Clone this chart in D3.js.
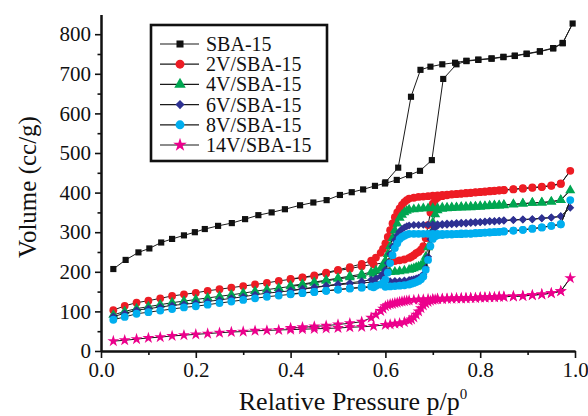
<!DOCTYPE html>
<html><head><meta charset="utf-8">
<script src="https://cdn.jsdelivr.net/npm/d3@7"></script>
<style>body{margin:0;background:#fff;} svg{display:block;} text{font-family:"Liberation Serif","Times New Roman",serif;fill:#111;}</style>
</head><body><svg id="c" width="588" height="416"></svg>
<script>
// ---------------- data ----------------
const seriesNames = ["SBA-15","2V/SBA-15","4V/SBA-15","6V/SBA-15","8V/SBA-15","14V/SBA-15"];
const seriesColors = ["#111111","#ed1c24","#00a651","#2e3192","#00aeef","#ec008c"];
const seriesShapes = ["square","circle","triangle","diamond","circle","star"];

const xTickValues = [0.0,0.2,0.4,0.6,0.8,1.0];
const xTickLabels = ["0.0","0.2","0.4","0.6","0.8","1.0"];
const yTickValues = [0,100,200,300,400,500,600,700,800];

// SBA-15
const sbaAdsP = [0.026,0.052,0.079,0.102,0.127,0.150,0.175,0.198,0.219,0.247,0.276,0.304,0.332,0.36,0.388,0.42,0.448,0.476,0.504,0.529,0.553,0.578,0.599,0.624,0.650,0.673,0.698,0.722,0.75,0.771,0.796,0.824,0.849,0.873,0.898,0.926,0.954,0.974,0.995];
const sbaAdsV = [207,230,249,259,274,283,292,300,308,316,323,333,343,350,358,368,375,381,394,401,408,417,423,432,444,455,482,687,724,732,735,738,742,745,750,756,764,777,827];
const sbaDesP = [0.974,0.954,0.926,0.898,0.873,0.849,0.824,0.796,0.771,0.747,0.72,0.695,0.674,0.654,0.627,0.600];
const sbaDesV = [778,765,757,751,746,743,739,736,733,728,724,718,710,642,463,426];

// V-loaded samples: shared pressure grids
const vAdsP = [0.026,0.05,0.075,0.10,0.125,0.15,0.175,0.20,0.225,0.25,0.275,0.30,0.325,0.35,0.375,0.40,0.425,0.45,0.475,0.50,0.525,0.55,0.575,0.60,
  0.61,0.62,0.63,0.64,0.65,
  0.655,0.66,0.665,0.67,0.675,0.68,0.685,0.69,0.695,0.70,0.705,0.71,
  0.72,0.73,0.74,0.75,0.76,0.77,0.78,0.79,0.80,0.81,0.82,0.83,0.84,0.85,
  0.87,0.89,0.91,0.93,0.95,0.97,0.99];
const vDesP = [0.97,0.95,0.93,0.91,0.89,0.87,0.85,
  0.84,0.83,0.82,0.81,0.80,0.79,0.78,0.77,0.76,0.75,0.74,0.73,0.72,0.71,0.70,0.69,0.68,0.67,0.66,0.65,
  0.645,0.64,0.635,0.63,0.625,0.62,0.615,0.61,0.605,0.60,0.595,0.59,
  0.58,0.57,0.55,0.525,0.50,0.475,0.45,0.425,0.40];

const v2Ads = [103,114,122,127,133,139,143,147,152,156,160,164,168,172,177,181,185,189,196,203,208,214,219,223,
  225,227,229,231,235,
  238,242,247,250,256,265,285,318,350,372,382,387,
  391,393,395,396,397,398,399,400,401,402,403,404,405,406,
  408,410,412,414,417,422,455];
const v2Des = [423,418,415,413,411,409,407,
  406,405,404,403,402,401,400,399,398,397,396,395,394,393,392,391,390,389,387,385,
  381,376,369,360,350,338,322,305,288,272,258,248,
  236,228,220,212,205,198,191,186,182];

const v4Ads = [91,100,107,112,117,122,126,130,134,138,142,146,151,155,159,163,167,172,177,182,186,190,195,198,
  199,200,201,203,205,
  207,209,211,213,216,222,238,262,295,325,345,355,
  359,360,361,362,362,363,363,364,364,365,366,367,367,368,
  370,372,374,375,377,381,406];
const v4Des = [381,377,375,374,372,371,369,
  368,368,367,366,366,365,365,364,364,363,363,362,362,361,361,360,360,359,358,357,
  354,350,344,336,322,305,285,265,245,228,216,208,
  203,199,194,189,184,179,174,169,165];

const v6Ads = [87,95,103,107,111,115,118,121,125,129,133,137,142,146,149,152,156,160,164,167,170,172,174,176,
  176,177,177,178,179,
  180,181,183,185,188,194,210,238,282,303,312,316,
  318,319,320,321,322,322,323,324,325,326,327,327,328,329,
  331,332,333,335,337,340,362];
const v6Des = [340,337,335,333,332,331,330,
  329,328,328,327,326,326,325,324,324,323,322,322,321,320,320,319,319,318,318,317,
  315,312,308,302,292,280,264,245,222,205,195,189,
  183,180,176,172,169,165,161,157,153];

const v8Ads = [79,86,94,98,102,106,110,113,117,121,125,129,133,137,140,143,146,149,152,155,158,160,161,162,
  163,164,165,166,168,
  170,172,174,177,181,188,205,230,265,283,290,292,
  293,294,294,295,295,296,296,297,298,299,299,300,301,302,
  304,306,309,312,316,320,381];
const v8Des = [320,316,312,309,306,304,302,
  301,300,300,299,298,298,297,297,297,296,296,296,296,296,296,296,296,296,296,296,
  294,291,288,283,272,260,242,222,198,180,172,168,
  165,163,161,158,155,152,149,147,144];

const v14Ads = [25,27,30,33,35,38,40,42,44,46,48,49,51,52,53,54,55,56,57,58,60,61,63,66,
  67,69,70,73,77,
  80,85,92,100,108,115,120,124,127,129,130,131,
  131,132,132,133,133,133,134,134,135,135,136,136,137,137,
  138,139,141,143,146,151,184];
const v14Des = [151,146,143,141,139,138,137,
  137,136,136,135,135,134,134,134,133,133,133,132,132,132,131,131,130,130,129,128,
  127,126,125,124,122,121,119,118,116,113,107,101,
  92,84,74,70,67,64,62,60,58];

// ---------------- build ----------------
const zip = (ps, vs) => ps.map((p, i) => [p, vs[i]]);
const seriesPts = [
  zip(sbaAdsP, sbaAdsV).concat(zip(sbaDesP, sbaDesV)),
  zip(vAdsP, v2Ads).concat(zip(vDesP, v2Des)),
  zip(vAdsP, v4Ads).concat(zip(vDesP, v4Des)),
  zip(vAdsP, v6Ads).concat(zip(vDesP, v6Des)),
  zip(vAdsP, v8Ads).concat(zip(vDesP, v8Des)),
  zip(vAdsP, v14Ads).concat(zip(vDesP, v14Des))
];

const svg = d3.select("#c");
const x = d3.scaleLinear().domain([0, 1]).range([101, 575]);
const y = d3.scaleLinear().domain([0, 850]).range([351, 14.4]);

function symPath(shape, k) {
  k = k || 1;
  if (shape === "square") return d3.symbol(d3.symbolSquare, 38 * k)();
  if (shape === "circle") return d3.symbol(d3.symbolCircle, 48 * k)();
  if (shape === "triangle") return d3.symbol(d3.symbolTriangle, 44 * k)();
  if (shape === "diamond") return d3.symbol(d3.symbolSquare, 32 * k)();
  if (shape === "star") return d3.symbol(d3.symbolStar, 44 * k)();
}
function symTransform(shape, px, py) {
  return shape === "diamond" ? `translate(${px},${py}) rotate(45)` : `translate(${px},${py})`;
}

// series
const line = d3.line().x(d => x(d[0])).y(d => y(d[1]));
seriesPts.forEach((pts, i) => {
  const g = svg.append("g");
  g.append("path").attr("d", line(pts)).attr("fill", "none")
    .attr("stroke", "#1a1a1a").attr("stroke-width", 1);
  g.selectAll("path.m").data(pts).enter().append("path").attr("class", "m")
    .attr("d", symPath(seriesShapes[i]))
    .attr("transform", d => symTransform(seriesShapes[i], x(d[0]), y(d[1])))
    .attr("fill", seriesColors[i]);
});

// axes
const fontSize = 21;
const yAxis = svg.append("g").attr("transform", "translate(101,0)")
  .call(d3.axisLeft(y).tickValues(yTickValues).tickFormat(d3.format("d")).tickSize(6).tickSizeOuter(0));
const yMinor = svg.append("g").attr("transform", "translate(101,0)")
  .call(d3.axisLeft(y).tickValues(d3.range(50, 800, 100)).tickFormat("").tickSize(3.5).tickSizeOuter(0));
const xAxis = svg.append("g").attr("transform", "translate(0,351)")
  .call(d3.axisBottom(x).tickValues(xTickValues).tickFormat((d, i) => xTickLabels[i]).tickSize(7).tickSizeOuter(0));
const xMinor = svg.append("g").attr("transform", "translate(0,351)")
  .call(d3.axisBottom(x).tickValues([0.1,0.3,0.5,0.7,0.9]).tickFormat("").tickSize(4).tickSizeOuter(0));
[yAxis, yMinor, xAxis, xMinor].forEach(a => {
  a.select(".domain").attr("stroke", "#111").attr("stroke-width", 2);
  a.selectAll(".tick line").attr("stroke", "#111").attr("stroke-width", 1.6);
  a.selectAll(".tick text").attr("font-size", fontSize).attr("font-family", '"Liberation Serif",serif').attr("fill", "#111");
});
yAxis.selectAll(".tick text").attr("x", -10);
xAxis.selectAll(".tick text").attr("y", 11);

// titles
const xt = svg.append("text").attr("x", 353).attr("y", 410).attr("text-anchor", "middle")
  .attr("font-size", 26);
xt.append("tspan").text("Relative Pressure p/p");
xt.append("tspan").attr("font-size", 15).attr("dy", -11).text("0");
svg.append("text").attr("transform", "translate(36,187) rotate(-90)").attr("text-anchor", "middle")
  .attr("font-size", 25).text("Volume (cc/g)");

// legend
const lg = svg.append("g");
lg.append("rect").attr("x", 151).attr("y", 25).attr("width", 176).attr("height", 136)
  .attr("fill", "#fff").attr("stroke", "#111").attr("stroke-width", 2.6);
seriesNames.forEach((name, i) => {
  const ry = 44 + i * 20.2;
  lg.append("line").attr("x1", 160).attr("x2", 199).attr("y1", ry).attr("y2", ry)
    .attr("stroke", "#1a1a1a").attr("stroke-width", 1.2);
  lg.append("path").attr("d", symPath(seriesShapes[i], 1.3))
    .attr("transform", symTransform(seriesShapes[i], 180, ry)).attr("fill", seriesColors[i]);
  lg.append("text").attr("x", 206).attr("y", ry + 7).attr("font-size", 20).text(name);
});
</script></body></html>
